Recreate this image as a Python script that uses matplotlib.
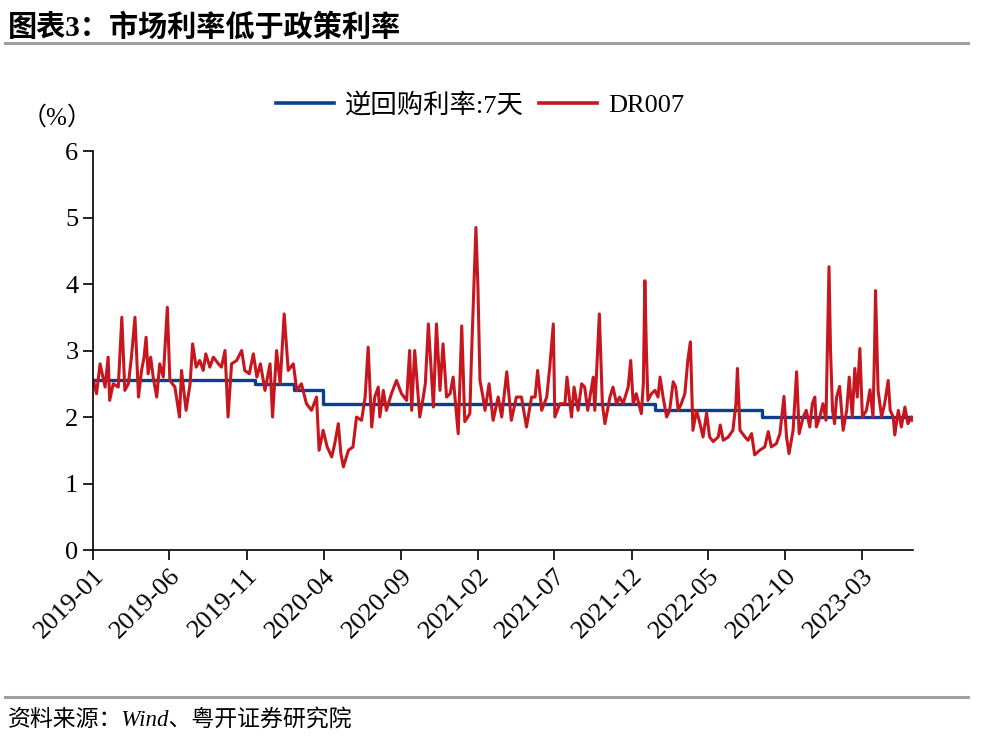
import pandas as pd
import matplotlib
matplotlib.use("Agg")
import matplotlib.pyplot as plt
import matplotlib.dates as mdates
from matplotlib.lines import Line2D

plt.rcParams['font.family'] = ['Liberation Serif', 'Noto Sans CJK SC', 'DejaVu Sans']

# 7-day reverse repo policy rate (step changes)
repo_dates = ["2019-01-02", "2019-11-18", "2020-02-03", "2020-03-30", "2022-01-17", "2022-08-15", "2023-06-09"]
repo_rate = [2.55, 2.50, 2.40, 2.20, 2.10, 2.00, 2.00]

# DR007
dr_dates = [
    "2019-01-02", "2019-01-08", "2019-01-15", "2019-01-25", "2019-01-31", "2019-02-03", "2019-02-10",
    "2019-02-20", "2019-02-27", "2019-03-05", "2019-03-12", "2019-03-18", "2019-03-25", "2019-04-01",
    "2019-04-07", "2019-04-12", "2019-04-16", "2019-04-20", "2019-04-25", "2019-04-30", "2019-05-07",
    "2019-05-13", "2019-05-20", "2019-05-28", "2019-06-02", "2019-06-12", "2019-06-21", "2019-06-25",
    "2019-07-04", "2019-07-12", "2019-07-17", "2019-07-24", "2019-07-31", "2019-08-07", "2019-08-12",
    "2019-08-20", "2019-08-27", "2019-09-06", "2019-09-12", "2019-09-19", "2019-09-25", "2019-10-02",
    "2019-10-12", "2019-10-22", "2019-10-28", "2019-11-06", "2019-11-14", "2019-11-21", "2019-11-28",
    "2019-12-07", "2019-12-17", "2019-12-22", "2019-12-30",
    "2020-01-06", "2020-01-14", "2020-01-22", "2020-02-01", "2020-02-08", "2020-02-17", "2020-02-27",
    "2020-03-08", "2020-03-18", "2020-03-23", "2020-03-31", "2020-04-08", "2020-04-17", "2020-04-23",
    "2020-04-30", "2020-05-05", "2020-05-10", "2020-05-20", "2020-05-29", "2020-06-05", "2020-06-15",
    "2020-06-22", "2020-06-28", "2020-07-05", "2020-07-11", "2020-07-18", "2020-07-21", "2020-07-28",
    "2020-08-03", "2020-08-13", "2020-08-23", "2020-09-02", "2020-09-12", "2020-09-18", "2020-09-22",
    "2020-09-28", "2020-10-08", "2020-10-15", "2020-10-19", "2020-10-25", "2020-11-04", "2020-11-10",
    "2020-11-17", "2020-11-23", "2020-11-30", "2020-12-07", "2020-12-13", "2020-12-23", "2020-12-30",
    "2021-01-05", "2021-01-15", "2021-01-18", "2021-01-27", "2021-01-31", "2021-02-04", "2021-02-10",
    "2021-02-14", "2021-02-22", "2021-03-02", "2021-03-12", "2021-03-19", "2021-03-29", "2021-04-07",
    "2021-04-17", "2021-04-27", "2021-05-07", "2021-05-17", "2021-05-24", "2021-05-29", "2021-06-06",
    "2021-06-16", "2021-06-22", "2021-06-29", "2021-07-02", "2021-07-12", "2021-07-22", "2021-07-26",
    "2021-08-04", "2021-08-09", "2021-08-17", "2021-08-24", "2021-08-30", "2021-09-05", "2021-09-16",
    "2021-09-19", "2021-09-28", "2021-10-04", "2021-10-09", "2021-10-19", "2021-10-25", "2021-11-01",
    "2021-11-07", "2021-11-14", "2021-11-24", "2021-11-29", "2021-12-04", "2021-12-10", "2021-12-20",
    "2021-12-24", "2021-12-27", "2021-12-30",
    "2022-01-02", "2022-01-09", "2022-01-16", "2022-01-22", "2022-01-26", "2022-02-01", "2022-02-08",
    "2022-02-14", "2022-02-21", "2022-02-26", "2022-03-03", "2022-03-09", "2022-03-16", "2022-03-22",
    "2022-03-27", "2022-04-01", "2022-04-08", "2022-04-15", "2022-04-21", "2022-04-28", "2022-05-04",
    "2022-05-11", "2022-05-21", "2022-05-25", "2022-05-31", "2022-06-10", "2022-06-19", "2022-06-25",
    "2022-06-28", "2022-07-03", "2022-07-13", "2022-07-19", "2022-07-26", "2022-08-01", "2022-08-11",
    "2022-08-21", "2022-08-28", "2022-09-03", "2022-09-13", "2022-09-20", "2022-09-28", "2022-10-03",
    "2022-10-08", "2022-10-16", "2022-10-23", "2022-10-28", "2022-11-05", "2022-11-11", "2022-11-18",
    "2022-11-23", "2022-11-28", "2022-12-01", "2022-12-08", "2022-12-14", "2022-12-20", "2022-12-26",
    "2022-12-29",
    "2023-01-02", "2023-01-06", "2023-01-10", "2023-01-16", "2023-01-23", "2023-01-30", "2023-02-04",
    "2023-02-10", "2023-02-15", "2023-02-20", "2023-02-25", "2023-03-02", "2023-03-10", "2023-03-17",
    "2023-03-23", "2023-03-26", "2023-03-28", "2023-03-31", "2023-04-02", "2023-04-09", "2023-04-15",
    "2023-04-22", "2023-04-26", "2023-05-02", "2023-05-05", "2023-05-12", "2023-05-18", "2023-05-25",
    "2023-05-31", "2023-06-07", "2023-06-09",
]
dr007 = [
    2.55, 2.35, 2.80, 2.45, 2.90, 2.25, 2.50,
    2.45, 3.50, 2.40, 2.50, 2.90, 3.50, 2.30,
    2.70, 2.90, 3.20, 2.65, 2.90, 2.60, 2.30,
    2.80, 2.60, 3.65, 2.55, 2.45, 2.00, 2.70,
    2.10, 2.50, 3.10, 2.75, 2.85, 2.70, 2.95,
    2.75, 2.90, 2.80, 2.75, 3.00, 2.00, 2.80,
    2.85, 3.00, 2.70, 2.65, 2.95, 2.60, 2.80,
    2.40, 2.80, 2.00, 3.00,
    2.50, 3.55, 2.70, 2.80, 2.40, 2.50, 2.20,
    2.10, 2.30, 1.50, 1.80, 1.55, 1.40, 1.60,
    1.90, 1.45, 1.25, 1.50, 1.55, 2.00, 1.95,
    2.30, 3.05, 1.85, 2.30, 2.45, 2.00, 2.40,
    2.10, 2.35, 2.55, 2.35, 2.25, 3.00, 2.10,
    3.00, 2.00, 2.30, 2.50, 3.40, 2.15, 3.40,
    2.40, 3.10, 2.30, 2.35, 2.60, 1.75, 3.37,
    1.93, 2.05, 2.85, 4.85, 3.95, 2.55, 2.30,
    2.10, 2.50, 1.95, 2.30, 2.00, 2.68, 1.95,
    2.30, 2.30, 1.85, 2.30, 2.30, 2.70, 2.10,
    2.30, 2.75, 3.40, 2.00, 2.20, 2.20, 2.60,
    2.00, 2.45, 2.10, 2.50, 2.45, 2.10, 2.60,
    2.10, 3.55, 2.20, 1.90, 2.30, 2.45, 2.20,
    2.30, 2.20, 2.45, 2.85, 2.20, 2.35, 2.05,
    2.50, 4.05, 3.00,
    2.25, 2.35, 2.40, 2.30, 2.60, 2.30, 2.00,
    2.10, 2.53, 2.45, 2.10, 2.20, 2.35, 2.86,
    3.13, 1.80, 2.10, 1.90, 1.70, 2.06, 1.70,
    1.63, 1.70, 1.88, 1.65, 1.70, 1.80, 2.20,
    2.73, 1.80, 1.70, 1.65, 1.75, 1.43, 1.50,
    1.55, 1.78, 1.55, 1.60, 1.75, 2.31, 1.70,
    1.45, 1.80, 2.68, 1.75, 2.00, 2.10, 1.85,
    2.20, 2.30, 1.85, 2.00, 2.20, 1.95, 4.26,
    3.00,
    2.10, 1.90, 2.30, 2.46, 1.80, 2.10, 2.60,
    2.00, 2.73, 2.30, 3.03, 2.00, 2.10, 2.41,
    2.00, 3.00, 3.90, 3.00, 2.40, 2.00, 2.20,
    2.55, 2.10, 2.00, 1.73, 2.10, 1.85, 2.15,
    1.90, 2.00, 1.95,
]

xticks = ["2019-01", "2019-06", "2019-11", "2020-04", "2020-09", "2021-02",
          "2021-07", "2021-12", "2022-05", "2022-10", "2023-03"]

blue = "#0B3D91"
red = "#C8161E"

fig = plt.figure(figsize=(9.87, 7.52), dpi=100)
ax = fig.add_axes([0.0942, 0.2686, 0.8308, 0.5306])

ax.plot(pd.to_datetime(repo_dates), repo_rate, color=blue, lw=2.4, drawstyle="steps-post")
ax.plot(pd.to_datetime(dr_dates), dr007, color=red, lw=2.2)

ax.set_ylim(0, 6)
ax.set_yticks(range(0, 7))
ax.set_xlim(pd.Timestamp("2019-01-01"), pd.Timestamp("2023-06-10"))
ax.set_xticks(pd.to_datetime(xticks))
ax.xaxis.set_major_formatter(mdates.DateFormatter("%Y-%m"))
ax.tick_params(axis="both", labelsize=19, direction="out", length=7, width=1.2, color="black")
plt.setp(ax.get_xticklabels(), rotation=45, ha="right", rotation_mode="anchor")
for s in ["top", "right"]:
    ax.spines[s].set_visible(False)
for s in ["left", "bottom"]:
    ax.spines[s].set_linewidth(1.2)

# title / source
fig.text(0.008, 1 - 27 / 752, "图表3：市场利率低于政策利率", fontsize=21, fontweight="bold", va="center")
fig.add_artist(Line2D([5 / 987, 968 / 987], [1 - 43 / 752, 1 - 43 / 752], color="#A0A0A0", lw=2.2))
fig.add_artist(Line2D([5 / 987, 968 / 987], [1 - 697 / 752, 1 - 697 / 752], color="#A0A0A0", lw=2.2))
fig.text(0.008, 1 - 721 / 752, "资料来源：Wind、粤开证券研究院", fontsize=16.5, style="italic", va="center")

fig.text(22 / 987, 1 - 118 / 752, "（%）", fontsize=18, va="center")

handles = [Line2D([], [], color=blue, lw=2.6), Line2D([], [], color=red, lw=2.6)]
fig.legend(handles, ["逆回购利率:7天", "DR007"], loc="center", bbox_to_anchor=(480 / 987, 1 - 105 / 752),
           ncol=2, frameon=False, fontsize=19, handlelength=2.2, handletextpad=0.4, columnspacing=0.6)

fig.savefig("out.png", dpi=100)
plt.close(fig)
